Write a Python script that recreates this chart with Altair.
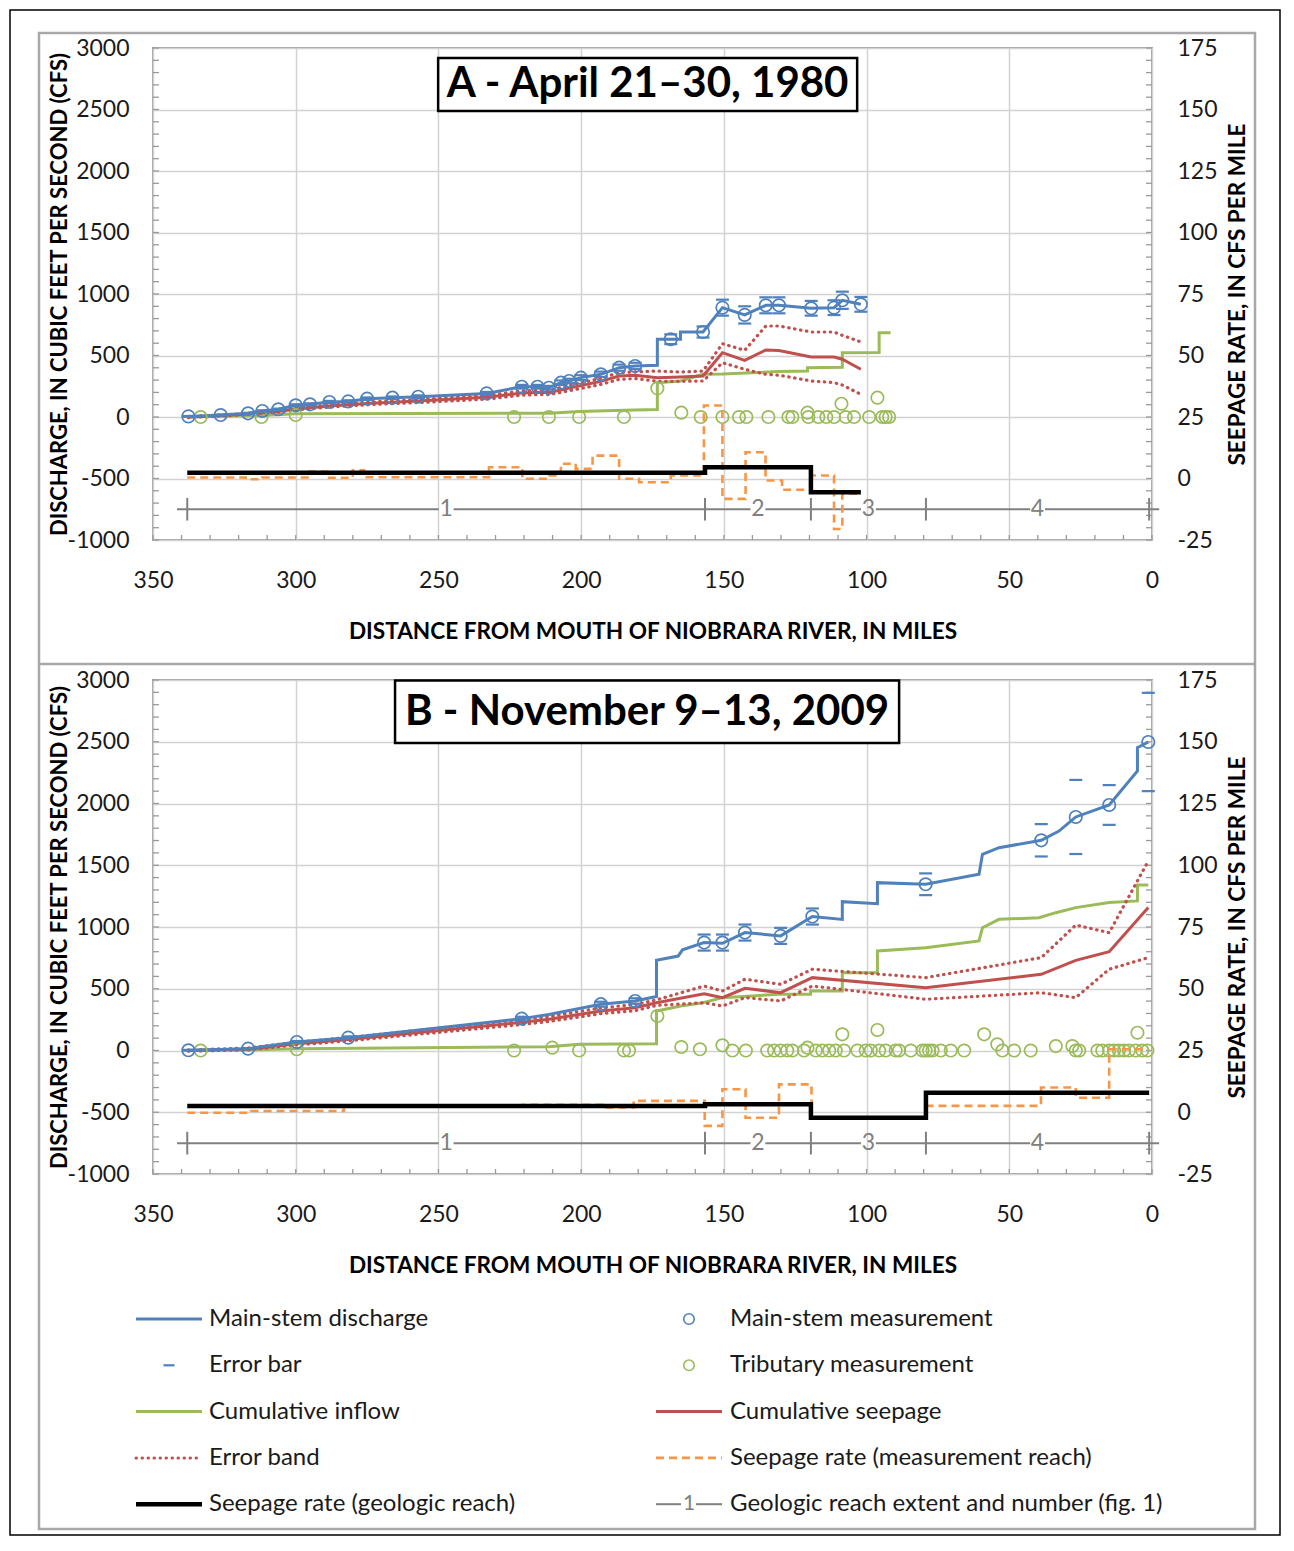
import altair as alt
import pandas as pd

# ============================ DATA ============================
# ---------- Panel A : April 21-30, 1980 ----------
A_MAIN_LINE_D = [337.6, 326.3, 316.7, 311.7, 306.1, 300, 295, 288.2, 281.6, 275, 266.1, 257.1, 233.1, 220.8,
                 215.3, 211.3, 207.1, 204.2, 200.1, 193.1, 186.7, 181.1, 173.3, 173.3, 168.6, 165.2, 165.2,
                 157.3, 150.5, 142.7, 135.3, 130.7, 119.4, 111.4, 108.5, 102]
A_MAIN_LINE_Q = [5, 16, 30, 49, 63, 95, 103, 122, 127, 149, 157, 165, 192, 246, 246, 238, 279, 293, 320, 347,
                 401, 415, 420, 632, 632, 632, 691, 691, 889, 830, 908, 908, 884, 889, 949, 916]
A_MEAS_D = [337.6, 326.3, 316.7, 311.7, 306.1, 300, 295, 288.2, 281.6, 275, 266.1, 257.1, 233.1, 220.8, 215.3,
            211.3, 207.1, 204.2, 200.1, 193.1, 186.7, 181.1, 168.6, 157.3, 150.5, 142.7, 135.3, 130.7, 119.4,
            111.4, 108.5, 102]
A_MEAS_Q = [5, 16, 30, 49, 63, 95, 103, 122, 127, 149, 157, 165, 192, 246, 246, 238, 279, 293, 320, 347, 401,
            415, 632, 691, 889, 830, 908, 908, 884, 889, 949, 916]
A_MEAS_E = [3, 3, 4, 5, 5, 8, 8, 9, 9, 10, 10, 11, 12, 15, 15, 15, 18, 18, 20, 22, 25, 26, 40, 45, 65, 70, 65,
            65, 60, 60, 70, 60]
A_TRIB_D = [333.3, 312, 300, 223.5, 211.3, 200.7, 185, 173.3, 164.9, 158.1, 150.5, 144.7, 142.1, 134.4, 127.4,
            126, 120.7, 120.4, 116.9, 114.1, 111.4, 108.8, 107.3, 104.4, 99.1, 96.2, 94.5, 93.3, 92.1]
A_TRIB_Q = [0, 0, 16, 0, 0, 0, 0, 233, 35, 0, 0, 0, 0, 0, 0, 0, 35, 0, 0, 0, 0, 108, 0, 0, 0, 157, 0, 0, 0]
A_INFLOW_D = [337.6, 333.3, 312, 300, 211, 200.7, 185, 173.3, 173.3, 165.2, 157.3, 150.5, 130.7, 120.7, 120.7,
              108.5, 108.5, 95.6, 95.6, 91.6]
A_INFLOW_Q = [0, 3, 12, 27, 30, 45, 55, 60, 279, 293, 347, 350, 370, 374, 401, 405, 523, 525, 685, 685]
A_SEEP_D = [337.6, 326.3, 316.7, 311.7, 306.1, 300, 295, 288.2, 281.6, 275, 266.1, 257.1, 233.1, 220.8, 215.3,
            211.3, 207.1, 204.2, 200.1, 193.1, 186.7, 181.1, 173.3, 165.2, 157.3, 150.5, 142.7, 135.3, 130.7,
            119.4, 111.4, 108.5, 102]
A_SEEP_Q = [0, 12, 25, 35, 45, 65, 75, 90, 100, 110, 120, 130, 160, 195, 200, 200, 220, 235, 255, 290, 333, 340,
            320, 325, 333, 523, 461, 545, 540, 488, 488, 470, 388]
A_SEEP_HI = [5, 16, 29, 40, 51, 72, 83, 99, 110, 121, 132, 143, 175, 212, 218, 218, 240, 256, 278, 315, 360, 367,
             374, 366, 374, 596, 542, 740, 740, 691, 691, 664, 610]
A_SEEP_LO = [-5, 8, 21, 30, 39, 58, 67, 81, 90, 99, 108, 117, 145, 178, 182, 182, 200, 214, 232, 265, 306, 313,
             290, 290, 293, 441, 388, 347, 340, 293, 279, 260, 184]
A_RATE_EDGES = [338, 317.5, 311.7, 295.3, 288.3, 280, 276, 232.3, 220.6, 211.2, 207.1, 201.9, 196.0, 186.7,
                179.7, 168.6, 157.0, 150.5, 142.4, 135.4, 129.6, 119.6, 111.4, 108.5, 102.1]
A_RATE_VALS = [0.4, -0.3, 0.4, 2.8, 0.3, 3.3, 0.5, 4.6, -0.1, 1.2, 6.0, 3.9, 9.3, -0.1, -1.5, 1.2, 29.7, -8.3,
               10.7, -0.8, -4.6, 1.2, -20.5, -6.2]
A_GEO_EDGES = [338, 156.6, 119.5, 102]
A_GEO_VALS = [2.3, 4.6, -5.6]

# ---------- Panel B : November 9-13, 2009 ----------
B_MAIN_LINE_D = [337.6, 316.7, 299.6, 281.6, 220.8, 211.3, 193.1, 181.1, 173.6, 173.6, 166, 164.5, 156.9, 150.5,
                 142.6, 130.1, 119, 108.5, 108.5, 96.2, 96.2, 79.3, 60.6, 59.4, 53.6, 38.8, 32.6, 26.7, 15, 5.1,
                 5.1, 1.3]
B_MAIN_LINE_Q = [2, 15, 69, 104, 258, 292, 375, 401, 437, 730, 765, 815, 874, 868, 955, 928, 1085, 1061, 1205,
                 1189, 1359, 1346, 1427, 1589, 1642, 1702, 1777, 1891, 1988, 2263, 2452, 2498]
B_MEAS_D = [337.6, 316.7, 299.6, 281.6, 220.8, 193.1, 181.1, 156.9, 150.5, 142.6, 130.1, 119, 79.3, 38.8, 26.7,
            15, 1.3]
B_MEAS_Q = [2, 15, 69, 104, 258, 375, 401, 874, 874, 955, 928, 1085, 1346, 1702, 1891, 1988, 2498]
B_MEAS_E = [3, 4, 8, 10, 15, 20, 22, 65, 65, 65, 65, 65, 88, 131, 300, 161, 398]
B_TRIB_D = [333.3, 299.6, 223.5, 210.1, 200.7, 185.0, 183.2, 173.3, 164.9, 158.4, 150.5, 147.0, 142.3, 134.8,
            132.4, 130.1, 127.8, 126.0, 121.9, 120.7, 117.8, 115.5, 113.1, 110.8, 108.5, 107.9, 103.2, 100.3,
            98.5, 96.2, 95.6, 93.3, 89.8, 88.6, 84.5, 80.4, 79.3, 78.1, 76.9, 74.0, 70.5, 65.8, 58.8, 54.2, 52.4,
            48.3, 42.5, 33.7, 27.9, 26.7, 25.5, 19.1, 17.4, 15.0, 13.3, 11.6, 9.8, 8.1, 5.7, 5.1, 3.4, 1.6]
B_TRIB_Q = [0, 10, 0, 23, 0, 0, 0, 279, 28, 10, 42, 0, 0, 0, 0, 0, 0, 0, 0, 23, 0, 0, 0, 0, 131, 0, 0, 0, 0, 166,
            0, 0, 0, 0, 0, 0, 0, 0, 0, 0, 0, 0, 131, 50, 0, 0, 0, 36, 36, 0, 0, 0, 0, 0, 0, 0, 0, 0, 0, 144, 0, 0]
B_INFLOW_D = [337.6, 316.7, 299.6, 211.3, 200.7, 173.6, 173.6, 165.1, 157.3, 150.5, 130.7, 119.6, 119.6, 108.5,
              108.5, 96.2, 96.2, 79.3, 60.6, 59.4, 53.6, 39.6, 33.7, 26.7, 15, 5.1, 5.1, 1.3]
B_INFLOW_Q = [0, 5, 15, 30, 50, 55, 320, 360, 387, 428, 455, 455, 482, 482, 630, 630, 806, 832, 887, 994, 1062,
              1075, 1116, 1157, 1198, 1211, 1340, 1340]
B_SEEP_D = [337.6, 316.7, 299.6, 281.6, 220.8, 211.3, 193.1, 181.1, 173.6, 156.9, 150.5, 142.6, 130.1, 119, 79.3,
            38.8, 26.7, 15, 1.3]
B_SEEP_Q = [0, 12, 55, 90, 228, 253, 320, 347, 387, 460, 428, 504, 468, 590, 509, 617, 730, 800, 1157]
B_SEEP_HI = [5, 20, 68, 105, 250, 275, 345, 372, 410, 522, 482, 577, 536, 658, 590, 752, 1016, 954, 1535]
B_SEEP_LO = [-5, 5, 45, 78, 210, 235, 298, 322, 365, 387, 360, 428, 401, 522, 415, 468, 428, 658, 752]
B_RATE_EDGES = [338, 315.7, 283.1, 220.5, 192.6, 181.6, 156.7, 150.5, 142.4, 130.7, 119.3, 79.2, 38.9, 26.7,
                15.0, 1.3]
B_RATE_VALS = [-0.2, 0.5, 2.3, 3.0, 1.9, 4.6, -5.5, 9.3, -2.2, 11.3, -2.0, 2.6, 10.0, 5.9, 25.5]
B_GEO_EDGES = [338, 156.6, 119.5, 79.2, 1]
B_GEO_VALS = [2.5, 3.2, -2.2, 7.9]

# ---------- geologic reaches (same in both panels) ----------
REACH_BOUNDS = [338, 156.6, 119.5, 79.2, 1]
REACH_NAMES = ["1", "2", "3", "4"]
REACH_LEVEL = -12.5   # seepage-rate units

# ---------- text ----------
A_TITLE = "A - April 21–30, 1980"
B_TITLE = "B - November 9–13, 2009"
X_TITLE = "DISTANCE FROM MOUTH OF NIOBRARA RIVER, IN MILES"
YL_TITLE = "DISCHARGE, IN CUBIC FEET PER SECOND (CFS)"
YR_TITLE = "SEEPAGE RATE, IN CFS PER MILE"
LEGEND_LEFT = ["Main-stem discharge", "Error bar", "Cumulative inflow", "Error band",
               "Seepage rate (geologic reach)"]
LEGEND_RIGHT = ["Main-stem measurement", "Tributary measurement", "Cumulative seepage",
                "Seepage rate (measurement reach)", "Geologic reach extent and number (fig. 1)"]

# ============================ STYLE / LAYOUT ============================
FONT = "Lato"
BLUE = "#4F81BD"
GREEN = "#9BBB59"
RED = "#C0504D"
ORANGE = "#F79646"
GRAYL = "#808080"
GRID = "#d2d2d2"
FRAME_GRAY = "#a8a8a8"
TXT = "#1a1a1a"

W = 999
HA, HB = 492, 494
SPACING = 140
LH = 200

X_SCALE = alt.Scale(domain=[350, 0], nice=False, zero=False)
Q_SCALE = alt.Scale(domain=[-1000, 3000], nice=False, zero=False)
S_SCALE = alt.Scale(domain=[-25, 175], nice=False, zero=False)


def axes(H):
    x_axis = alt.Axis(values=list(range(0, 351, 50)), grid=True, gridColor=GRID, gridWidth=1.5, domain=False,
                      ticks=False, tickSize=0, labelPadding=29, labelFontSize=23, labelFont=FONT,
                      labelColor=TXT, labelFlush=False, labelExpr="'' + datum.value", title=X_TITLE,
                      titleFont=FONT, titleFontSize=22.6, titleFontWeight="bold", titleColor="black",
                      titleX=W / 2, titleY=91, titleBaseline="middle", titleAlign="center")
    left_axis = alt.Axis(orient="left", values=list(range(-1000, 3001, 500)), grid=True, gridColor=GRID,
                         gridWidth=1.5, domain=False, ticks=False, tickSize=0, labelPadding=24, labelFontSize=23,
                         labelFont=FONT, labelColor=TXT, labelFlush=False, labelExpr="'' + datum.value",
                         title=YL_TITLE, titleFont=FONT, titleFontSize=22, titleFontWeight="bold",
                         titleColor="black", titleX=-94, titleY=H / 2, titleAngle=270, titleBaseline="middle",
                         titleAlign="center")
    right_axis = alt.Axis(orient="right", values=list(range(-25, 176, 25)), grid=False, domain=False,
                          ticks=False, tickSize=0, labelPadding=25, labelFontSize=23, labelFont=FONT,
                          labelColor=TXT, labelFlush=False, labelExpr="'' + datum.value", title=YR_TITLE,
                          titleFont=FONT, titleFontSize=22.6, titleFontWeight="bold", titleColor="black",
                          titleX=85, titleY=H / 2, titleAngle=270, titleBaseline="middle", titleAlign="center")
    return (alt.X("d:Q", scale=X_SCALE, axis=x_axis),
            alt.Y("v:Q", scale=Q_SCALE, axis=left_axis),
            alt.Y("v:Q", scale=S_SCALE, axis=right_axis))


def path_df(ds, vs):
    n = min(len(ds), len(vs))
    return pd.DataFrame({"d": ds[:n], "v": vs[:n], "i": list(range(n))})


def step_df(edges, vals):
    d, v = [], []
    for k, val in enumerate(vals):
        d += [edges[k], edges[k + 1]]
        v += [val, val]
    return path_df(d, v)


def panel(P, title, box, H, with_frames):
    X_ENC, YL_ENC, YR_ENC = axes(H)

    def line(df, y_enc, **mk):
        return alt.Chart(df).mark_line(**mk).encode(x=X_ENC, y=y_enc, order="i:Q")

    left = []
    if with_frames:
        one = pd.DataFrame({"k": [0]})
        left.append(alt.Chart(one).mark_rect(fill="transparent", stroke="black", strokeWidth=1.5).encode(
            x=alt.value(-143), x2=alt.value(1127), y=alt.value(-38), y2=alt.value(1487)))
        left.append(alt.Chart(one).mark_rect(fill="transparent", stroke=FRAME_GRAY, strokeWidth=2.5).encode(
            x=alt.value(-114), x2=alt.value(1102), y=alt.value(-15), y2=alt.value(1481)))
        left.append(alt.Chart(one).mark_rule(color=FRAME_GRAY, strokeWidth=2.5).encode(
            x=alt.value(-114), x2=alt.value(1102), y=alt.value(616)))
    # inner minor ticks
    yt = pd.DataFrame({"v": list(range(-1000, 3001, 100))})
    left.append(alt.Chart(yt).mark_rule(color="#9a9a9a", strokeWidth=1.3).encode(
        y=YL_ENC, x=alt.value(0), x2=alt.value(6)))
    left.append(alt.Chart(yt).mark_rule(color="#9a9a9a", strokeWidth=1.3).encode(
        y=YL_ENC, x=alt.value(W - 6), x2=alt.value(W)))
    xt = pd.DataFrame({"d": list(range(0, 351, 10))})
    left.append(alt.Chart(xt).mark_rule(color="#9a9a9a", strokeWidth=1.3).encode(
        x=X_ENC, y=alt.value(H), y2=alt.value(H - 5)))
    # title box
    bx = pd.DataFrame({"d": [box[0]], "d2": [box[1]], "v": [box[2]], "v2": [box[3]]})
    left.append(alt.Chart(bx).mark_rect(fill="white", stroke="black", strokeWidth=2.5).encode(
        x=X_ENC, x2=alt.X2("d2:Q"), y=YL_ENC, y2=alt.Y2("v2:Q")))
    tx = pd.DataFrame({"d": [(box[0] + box[1]) / 2], "v": [(box[2] + box[3]) / 2], "t": [title]})
    left.append(alt.Chart(tx).mark_text(font=FONT, fontSize=42, fontWeight="bold", color="black",
                                        baseline="middle", align="center").encode(
        x=X_ENC, y=YL_ENC, text="t:N"))
    # data series
    left.append(line(path_df(P["inflow_d"], P["inflow_q"]), YL_ENC, color=GREEN, strokeWidth=3))
    left.append(line(path_df(P["seep_d"], P["seep_hi"]), YL_ENC, color=RED, strokeWidth=3.2,
                     strokeDash=[0.5, 5.5], strokeCap="round"))
    left.append(line(path_df(P["seep_d"], P["seep_lo"]), YL_ENC, color=RED, strokeWidth=3.2,
                     strokeDash=[0.5, 5.5], strokeCap="round"))
    left.append(line(path_df(P["seep_d"], P["seep_q"]), YL_ENC, color=RED, strokeWidth=3))
    left.append(line(path_df(P["main_d"], P["main_q"]), YL_ENC, color=BLUE, strokeWidth=3))
    left.append(alt.Chart(path_df(P["trib_d"], P["trib_q"])).mark_point(
        shape="circle", filled=False, size=155, strokeWidth=1.7, color=GREEN, opacity=1).encode(
        x=X_ENC, y=YL_ENC))
    cd, cv = [], []
    for d0, q0, e0 in zip(P["meas_d"], P["meas_q"], P["meas_e"]):
        cd += [d0, d0]
        cv += [q0 + e0, q0 - e0]
    left.append(alt.Chart(path_df(cd, cv)).mark_tick(
        orient="horizontal", size=13, thickness=2.2, color=BLUE, opacity=1).encode(x=X_ENC, y=YL_ENC))
    left.append(alt.Chart(path_df(P["meas_d"], P["meas_q"])).mark_point(
        shape="circle", filled=False, size=155, strokeWidth=1.7, color=BLUE, opacity=1).encode(
        x=X_ENC, y=YL_ENC))

    right = []
    cents = [(REACH_BOUNDS[k] + REACH_BOUNDS[k + 1]) / 2 for k in range(len(REACH_NAMES))]
    gap = 2.6
    starts = [341.6] + [c - gap for c in cents]
    ends = [c + gap for c in cents] + [-2.5]
    seg = pd.DataFrame({"d": starts, "d2": ends, "v": [REACH_LEVEL] * len(starts)})
    right.append(alt.Chart(seg).mark_rule(color=GRAYL, strokeWidth=2).encode(
        x=X_ENC, x2=alt.X2("d2:Q"), y=YR_ENC))
    tk = pd.DataFrame({"d": REACH_BOUNDS, "v": [REACH_LEVEL - 4.6] * len(REACH_BOUNDS),
                       "v2": [REACH_LEVEL + 4.6] * len(REACH_BOUNDS)})
    right.append(alt.Chart(tk).mark_rule(color=GRAYL, strokeWidth=2).encode(
        x=X_ENC, y=YR_ENC, y2=alt.Y2("v2:Q")))
    lb = pd.DataFrame({"d": cents, "v": [REACH_LEVEL] * len(cents), "t": REACH_NAMES})
    right.append(alt.Chart(lb).mark_text(font=FONT, fontSize=23, color=GRAYL, baseline="middle",
                                         align="center").encode(x=X_ENC, y=YR_ENC, text="t:N"))
    right.append(line(step_df(P["rate_edges"], P["rate_vals"]), YR_ENC, color=ORANGE, strokeWidth=2.6,
                      strokeDash=[8, 5]))
    right.append(line(step_df(P["geo_edges"], P["geo_vals"]), YR_ENC, color="black", strokeWidth=4.5))

    return alt.layer(alt.layer(*left), alt.layer(*right)).resolve_scale(y="independent").properties(
        width=W, height=H)


PA = dict(main_d=A_MAIN_LINE_D, main_q=A_MAIN_LINE_Q, meas_d=A_MEAS_D, meas_q=A_MEAS_Q, meas_e=A_MEAS_E,
          trib_d=A_TRIB_D, trib_q=A_TRIB_Q, inflow_d=A_INFLOW_D, inflow_q=A_INFLOW_Q, seep_d=A_SEEP_D,
          seep_q=A_SEEP_Q, seep_hi=A_SEEP_HI, seep_lo=A_SEEP_LO, rate_edges=A_RATE_EDGES, rate_vals=A_RATE_VALS,
          geo_edges=A_GEO_EDGES, geo_vals=A_GEO_VALS)
PB = dict(main_d=B_MAIN_LINE_D, main_q=B_MAIN_LINE_Q, meas_d=B_MEAS_D, meas_q=B_MEAS_Q, meas_e=B_MEAS_E,
          trib_d=B_TRIB_D, trib_q=B_TRIB_Q, inflow_d=B_INFLOW_D, inflow_q=B_INFLOW_Q, seep_d=B_SEEP_D,
          seep_q=B_SEEP_Q, seep_hi=B_SEEP_HI, seep_lo=B_SEEP_LO, rate_edges=B_RATE_EDGES, rate_vals=B_RATE_VALS,
          geo_edges=B_GEO_EDGES, geo_vals=B_GEO_VALS)

panel_a = panel(PA, A_TITLE, [250.1, 103.3, 2919, 2488], HA, True)
panel_b = panel(PB, B_TITLE, [265.2, 88.6, 2995, 2490], HB, False)

# ============================ LEGEND ============================
LEG_TOP = 1313
LEG_Y0 = 1318
LEG_DY = 46.3
COLS = [dict(x0=137, x1=203, xc=170, xt=210), dict(x0=657, x1=723, xc=690, xt=731)]
LEFT_KINDS = ["line_blue", "dash_blue", "line_green", "dot_red", "line_black"]
RIGHT_KINDS = ["circ_blue", "circ_green", "line_red", "dash_orange", "reach"]

rows = []
for ci, (labels, kinds) in enumerate([(LEGEND_LEFT, LEFT_KINDS), (LEGEND_RIGHT, RIGHT_KINDS)]):
    c = COLS[ci]
    for ri, (lab, kind) in enumerate(zip(labels, kinds)):
        rows.append(dict(label=lab, kind=kind, d=c["x0"], d2=c["x1"], dc=c["xc"], dt=c["xt"],
                         v=LEG_Y0 + ri * LEG_DY))
leg = pd.DataFrame(rows)

LX = alt.Scale(domain=[154, 154 + W], nice=False, zero=False)
LY = alt.Scale(domain=[LEG_TOP, LEG_TOP + LH], reverse=True, nice=False, zero=False)
lx = alt.X("d:Q", scale=LX, axis=None)
ly = alt.Y("v:Q", scale=LY, axis=None)


def leg_rule(kind, **mk):
    return alt.Chart(leg).transform_filter(alt.datum.kind == kind).mark_rule(**mk).encode(
        x=lx, x2=alt.X2("d2:Q"), y=ly)


leg_layers = [
    leg_rule("line_blue", color=BLUE, strokeWidth=3),
    leg_rule("line_green", color=GREEN, strokeWidth=3),
    leg_rule("dot_red", color=RED, strokeWidth=3, strokeDash=[0.5, 5.5], strokeCap="round"),
    leg_rule("line_black", color="black", strokeWidth=4.5),
    leg_rule("line_red", color=RED, strokeWidth=3),
    leg_rule("dash_orange", color=ORANGE, strokeWidth=2.6, strokeDash=[8, 5]),
    alt.Chart(leg).transform_filter(alt.datum.kind == "dash_blue").mark_tick(
        orient="horizontal", size=11, thickness=2.2, color=BLUE, opacity=1).encode(
        x=alt.X("dc:Q", scale=LX, axis=None), y=ly),
    alt.Chart(leg).transform_filter(alt.datum.kind == "circ_blue").mark_point(
        shape="circle", filled=False, size=110, strokeWidth=1.6, color=BLUE, opacity=1).encode(
        x=alt.X("dc:Q", scale=LX, axis=None), y=ly),
    alt.Chart(leg).transform_filter(alt.datum.kind == "circ_green").mark_point(
        shape="circle", filled=False, size=110, strokeWidth=1.6, color=GREEN, opacity=1).encode(
        x=alt.X("dc:Q", scale=LX, axis=None), y=ly),
    alt.Chart(leg).transform_filter(alt.datum.kind == "reach").transform_calculate(
        a="datum.dc - 8").mark_rule(color=GRAYL, strokeWidth=2).encode(
        x=lx, x2=alt.X2("a:Q"), y=ly),
    alt.Chart(leg).transform_filter(alt.datum.kind == "reach").transform_calculate(
        a="datum.dc + 7").mark_rule(color=GRAYL, strokeWidth=2).encode(
        x=alt.X("a:Q", scale=LX, axis=None), x2=alt.X2("d2:Q"), y=ly),
    alt.Chart(leg).transform_filter(alt.datum.kind == "reach").transform_calculate(
        t="'1'").mark_text(font=FONT, fontSize=21, color=GRAYL, baseline="middle", align="center").encode(
        x=alt.X("dc:Q", scale=LX, axis=None), y=ly, text="t:N"),
    alt.Chart(leg).mark_text(font=FONT, fontSize=24, color=TXT, baseline="middle", align="left").encode(
        x=alt.X("dt:Q", scale=LX, axis=None), y=ly, text="label:N"),
]
legend = alt.layer(*leg_layers).properties(width=W, height=LH,
                                           view=alt.ViewBackground(stroke="transparent"))

chart = alt.vconcat(panel_a, panel_b, legend, spacing=SPACING, bounds="flush").properties(
    padding={"left": 0, "top": 0, "right": 0, "bottom": 0}, background="white"
).configure_view(stroke="#a0a0a0", strokeWidth=2)

chart.save("out.html", embed_options={"renderer": "svg", "actions": False})
